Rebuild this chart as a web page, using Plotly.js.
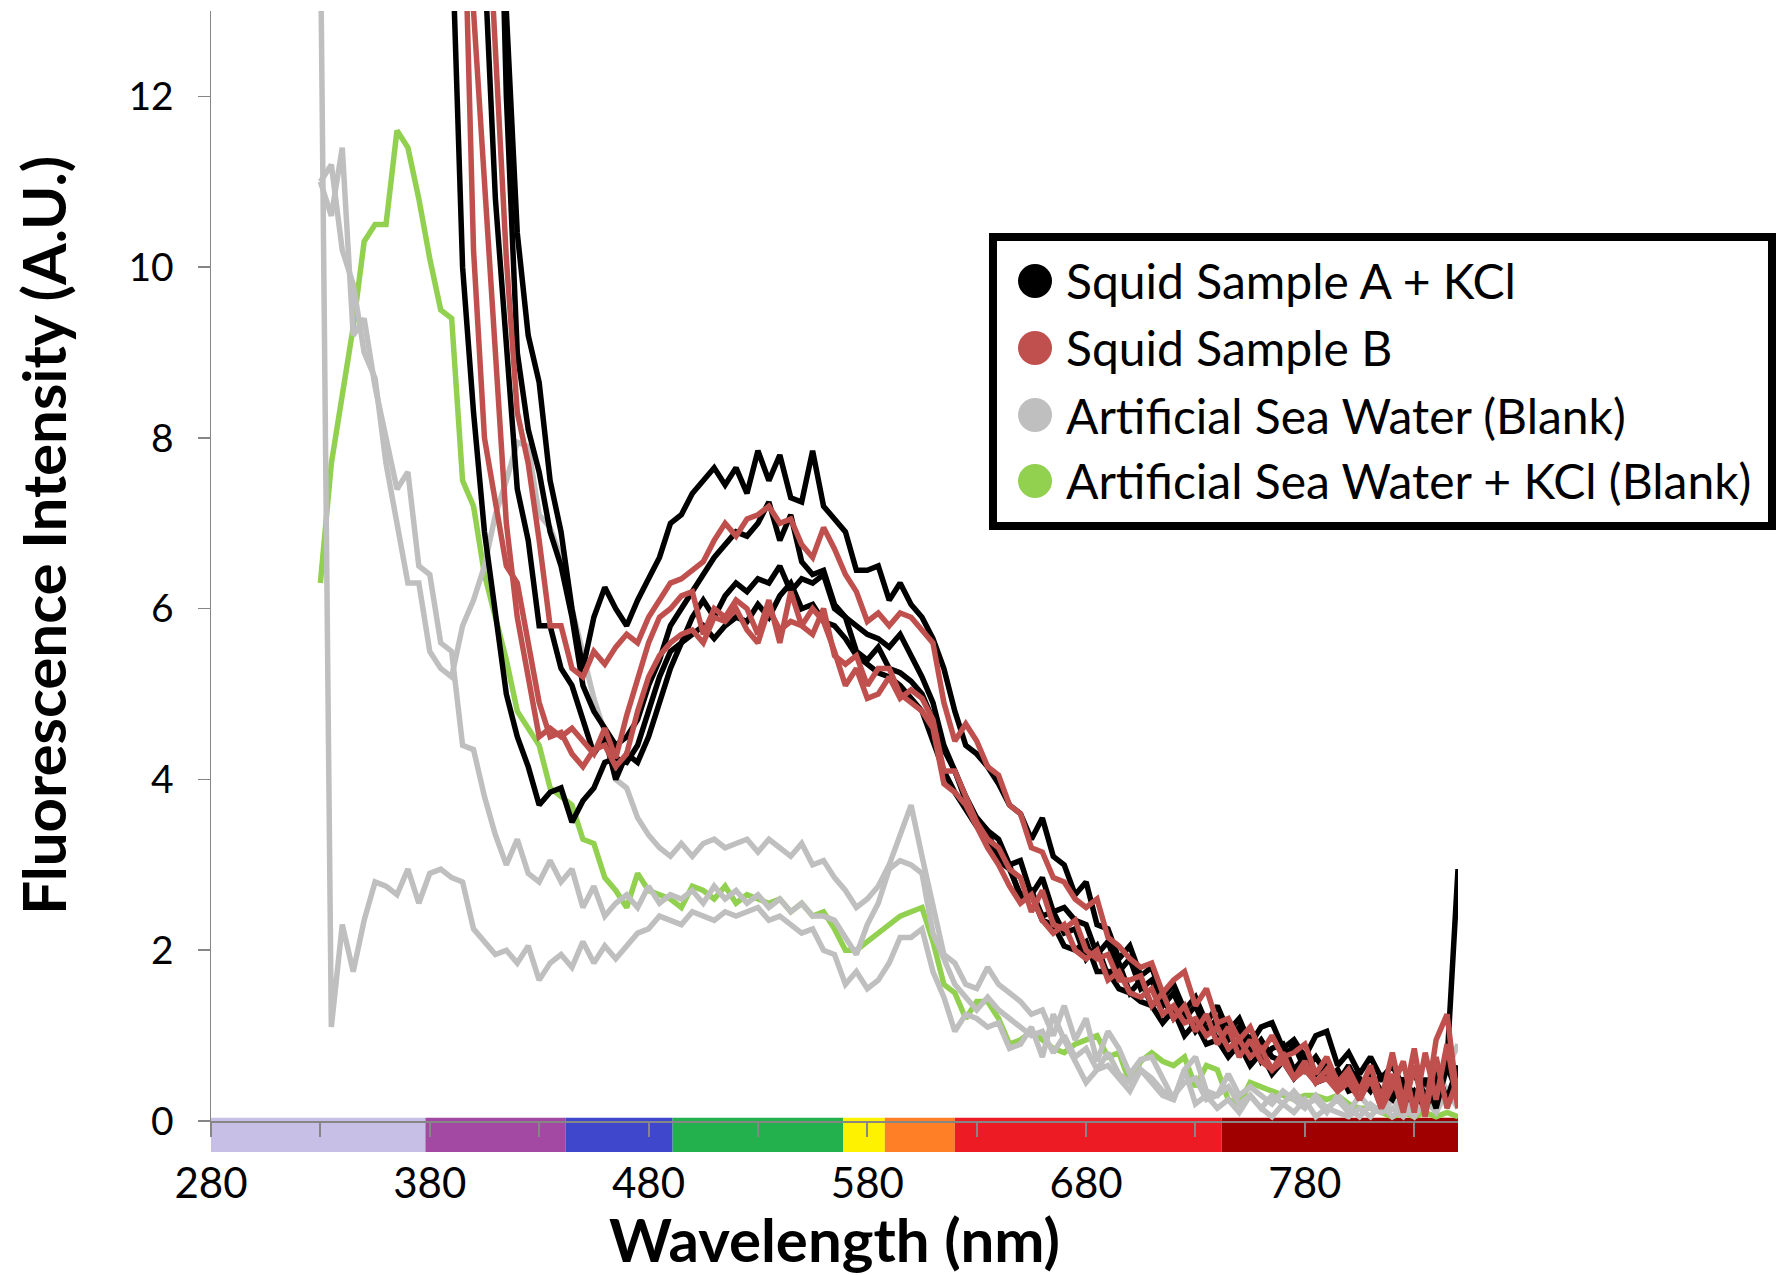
<!DOCTYPE html>
<html>
<head>
<meta charset="utf-8">
<script src="https://cdn.plot.ly/plotly-3.0.1.min.js"></script>
<style>
  html, body { margin: 0; padding: 0; background: #ffffff; }
  #chart { width: 1779px; height: 1275px; }
</style>
</head>
<body>
<div id="chart"></div>
<script>
// ---------------- data ----------------
const wavelength = [
  330,335,340,345,350,355,360,365,370,375,
  380,385,390,395,400,405,410,415,420,425,
  430,435,440,445,450,455,460,465,470,475,
  480,485,490,495,500,505,510,515,520,525,
  530,535,540,545,550,555,560,565,570,575,
  580,585,590,595,600,605,610,615,620,625,
  630,635,640,645,650,655,660,665,670,675,
  680,685,690,695,700,705,710,715,720,725,
  730,735,740,745,750,755,760,765,770,775,
  780,785,790,795,800,805,810,815,820,825,
  830,835,840,845,850
];

// Squid Sample A + KCl (four runs)
const squidA1 = [
  null,null,null,null,null,null,null,null,null,null,
  null,null,null,null,null,null,15,13.0,10.4,9.2,
  8.65,7.5,6.9,6.0,5.3,5.9,6.25,6.0,5.8,6.1,
  6.35,6.6,7.0,7.1,7.35,7.5,7.65,7.45,7.65,7.35,
  7.85,7.5,7.8,7.3,7.25,7.85,7.2,7.05,6.9,6.45,
  6.45,6.5,6.1,6.3,6.05,5.9,5.65,5.3,4.8,4.4,
  4.3,4.15,3.95,3.7,3.6,3.3,3.55,3.1,3.0,2.65,
  2.8,2.3,2.25,1.9,2.05,1.7,1.8,1.45,1.6,1.3,
  1.45,1.15,1.35,1.05,1.2,0.9,1.1,1.15,0.85,0.95,
  0.75,1.0,1.05,0.65,0.8,0.55,0.75,0.5,0.65,0.4,
  0.55,0.3,0.5,0.25,0.55
];
const squidA2 = [
  null,null,null,null,null,null,null,null,null,null,
  null,null,null,null,null,null,17,12.0,9.0,8.1,
  7.6,6.9,6.5,5.9,5.1,4.8,4.6,4.4,4.5,4.7,
  5.1,5.4,5.8,6.0,6.2,6.4,6.6,6.75,6.9,6.85,
  7.0,7.25,6.8,7.1,6.55,6.4,6.45,6.05,5.9,5.5,
  5.4,5.55,5.3,5.25,5.15,5.0,4.7,4.35,4.1,3.8,
  3.55,3.4,3.05,2.95,2.65,2.7,2.4,2.45,2.2,2.25,
  1.9,2.05,1.7,1.85,1.5,1.65,1.35,1.45,1.2,1.3,
  1.05,1.2,0.95,1.05,0.8,1.0,0.7,0.85,0.9,0.6,
  0.75,0.55,0.7,0.45,0.6,0.5,0.35,0.55,0.3,0.45,
  0.2,0.5,0.15,0.65,0.3
];
const squidA3 = [
  null,null,null,null,null,null,null,null,null,null,
  null,null,null,null,16,13.6,10.8,9.1,7.4,6.8,
  5.8,5.8,5.3,5.1,4.7,4.3,4.5,4.0,4.3,4.2,
  4.5,4.9,5.3,5.6,5.9,6.1,5.9,6.15,6.3,6.2,
  6.35,6.3,6.5,6.2,6.35,6.3,6.4,6.0,5.9,5.8,
  5.7,5.65,5.55,5.7,5.45,5.2,4.9,4.4,4.1,3.75,
  3.55,3.4,3.3,3.0,3.05,2.65,2.85,2.45,2.5,2.35,
  2.3,1.95,2.1,1.75,1.9,1.55,1.65,1.35,1.5,1.2,
  1.35,1.05,1.2,0.95,1.1,0.8,0.95,0.75,0.7,0.9,
  0.6,0.75,0.55,0.45,0.65,0.4,0.55,0.35,0.25,0.5,
  0.3,0.2,0.6,0.25,0.65
];
const squidA4 = [
  null,null,null,null,null,null,null,null,null,null,
  null,17,14.0,10.0,8.3,6.9,5.9,5.0,4.5,4.15,
  3.7,3.85,3.9,3.5,3.75,3.9,4.2,4.25,4.2,4.4,
  4.8,5.2,5.5,5.6,5.7,5.8,5.65,5.8,5.9,5.85,
  6.05,5.9,6.15,6.3,6.0,6.05,5.85,5.8,5.65,5.45,
  5.35,5.25,5.2,5.1,4.95,4.8,4.45,4.1,3.85,3.65,
  3.45,3.3,3.1,3.0,2.6,2.65,2.35,2.3,2.05,2.0,
  2.1,1.75,1.75,1.55,1.5,1.4,1.35,1.15,1.3,1.0,
  1.15,0.9,0.95,0.75,0.9,0.65,0.8,0.55,0.7,0.5,
  0.65,0.45,0.5,0.6,0.35,0.4,0.5,0.25,0.4,0.2,
  0.35,0.15,0.4,0.7,2.95
];

// Squid Sample B (three runs)
const squidB1 = [
  null,null,null,null,null,null,null,null,null,null,
  null,null,null,null,null,15,12.4,10.1,8.3,7.7,
  6.8,5.8,5.8,5.3,5.2,5.5,5.35,5.55,5.7,5.6,
  5.9,6.1,6.3,6.35,6.45,6.55,6.8,7.0,6.85,7.05,
  7.1,7.2,7.0,7.05,6.75,6.6,6.95,6.7,6.4,6.2,
  5.85,5.95,5.8,5.95,5.9,5.75,5.6,4.9,4.45,4.65,
  4.45,4.15,4.05,3.7,3.6,3.2,3.15,2.85,2.8,2.6,
  2.5,2.6,2.15,2.05,1.9,1.8,1.85,1.5,1.65,1.75,
  1.35,1.55,1.15,1.2,0.95,1.1,0.8,1.0,0.75,0.8,
  0.9,0.55,0.75,0.45,0.6,0.35,0.65,0.25,0.8,0.2,
  0.85,0.1,0.95,1.25,0.2
];
const squidB2 = [
  null,null,null,null,null,null,null,null,null,null,
  null,null,null,15,13.0,11.0,9.0,7.0,5.9,5.2,
  4.5,4.6,4.5,4.6,4.45,4.3,4.6,4.25,4.75,5.2,
  5.6,5.9,6.0,6.15,6.2,5.7,6.0,5.9,6.1,6.0,
  5.7,6.1,5.6,6.2,5.8,6.0,5.85,5.5,5.1,5.3,
  4.95,5.0,5.2,4.95,5.05,4.95,4.7,4.1,4.1,3.8,
  3.5,3.3,3.2,2.95,2.85,2.45,2.7,2.3,2.25,2.35,
  2.0,1.9,1.95,1.65,1.65,1.7,1.35,1.5,1.2,1.35,
  1.05,1.25,0.9,1.1,0.75,0.95,0.7,0.6,0.8,0.5,
  0.7,0.45,0.6,0.35,0.55,0.25,0.5,0.15,0.55,0.1,
  0.65,0.05,0.75,0.15,0.5
];
const squidB3 = [
  null,null,null,null,null,null,null,null,null,null,
  null,null,null,15,10.2,8.0,7.2,6.5,6.3,5.6,
  4.9,4.5,4.55,4.3,4.15,4.35,4.4,4.15,4.3,4.8,
  5.2,5.45,5.6,5.7,5.75,5.6,5.9,5.85,6.0,5.75,
  5.6,6.0,5.75,5.85,5.8,5.7,6.0,5.45,5.35,5.45,
  5.1,5.3,5.3,5.0,4.9,4.8,4.6,3.95,3.85,3.7,
  3.45,3.2,3.0,2.75,2.55,2.65,2.35,2.2,2.3,2.0,
  1.9,2.0,1.65,1.75,1.5,1.45,1.55,1.25,1.35,1.15,
  1.2,1.0,1.1,0.85,0.95,0.75,0.85,0.6,0.7,0.5,
  0.6,0.45,0.5,0.35,0.45,0.25,0.5,0.15,0.4,0.7,
  0.1,0.8,0.25,0.9,0.15
];

// Artificial Sea Water (Blank) (three runs)
const seaWater1 = [
  14,1.1,2.3,1.75,2.35,2.8,2.75,2.65,2.95,2.55,
  2.9,2.95,2.85,2.8,2.25,2.1,1.95,2.0,1.85,2.05,
  1.65,1.85,1.95,1.8,2.1,1.85,2.05,1.9,2.05,2.2,
  2.25,2.4,2.35,2.3,2.45,2.4,2.35,2.45,2.4,2.45,
  2.5,2.35,2.4,2.3,2.2,2.25,2.0,1.95,1.6,1.75,
  1.55,1.65,1.85,2.15,2.15,2.25,1.75,1.45,1.05,1.25,
  1.2,1.1,1.15,0.85,0.9,1.1,0.75,1.25,0.95,0.7,
  0.45,0.6,0.65,0.5,0.35,0.6,0.45,0.3,0.25,0.6,
  0.2,0.3,0.15,0.25,0.1,0.3,0.15,0.05,0.2,0.1,
  0.25,0.05,0.15,0.1,0.05,0.15,0.05,0.2,0.05,0.15,
  0.05,0.25,0.1,0.35,0.15
];
const seaWater2 = [
  11.0,10.6,11.4,9.2,9.4,8.6,8.0,7.4,7.6,6.5,
  6.4,5.6,5.5,4.4,4.35,3.8,3.35,3.0,3.3,2.9,
  2.8,3.05,2.8,2.95,2.5,2.75,2.4,2.55,2.65,2.5,
  2.75,2.55,2.65,2.6,2.7,2.55,2.75,2.6,2.7,2.55,
  2.65,2.5,2.6,2.45,2.55,2.4,2.4,2.35,2.15,1.95,
  2.3,2.55,2.95,3.05,3.0,2.9,2.2,1.9,1.6,1.45,
  1.3,1.45,1.3,1.2,1.1,1.0,1.05,0.8,1.0,0.75,
  0.85,0.6,0.8,0.55,0.45,0.6,0.5,0.35,0.3,0.45,
  0.5,0.25,0.3,0.4,0.2,0.3,0.15,0.3,0.2,0.35,
  0.2,0.25,0.1,0.3,0.15,0.05,0.2,0.1,0.15,0.05,
  0.2,0.45,0.2,0.6,0.9
];
const seaWater3 = [
  11.0,11.2,10.2,9.8,9.0,8.7,7.7,7.0,6.3,6.3,
  5.5,5.3,5.2,5.8,6.1,6.5,7.1,7.5,7.95,7.9,
  7.1,6.95,6.6,6.0,5.5,4.95,4.55,4.0,3.9,3.55,
  3.35,3.2,3.1,3.25,3.1,3.25,3.3,3.2,3.25,3.3,
  3.15,3.3,3.2,3.1,3.25,3.0,3.05,2.85,2.7,2.5,
  2.6,2.75,3.0,3.35,3.7,3.1,2.5,1.95,1.85,1.6,
  1.55,1.8,1.6,1.5,1.4,1.25,1.3,1.0,1.35,0.95,
  1.2,0.7,1.05,0.85,0.55,0.72,0.75,0.5,0.25,0.6,
  0.75,0.35,0.3,0.55,0.3,0.4,0.3,0.2,0.35,0.25,
  0.15,0.3,0.15,0.25,0.1,0.3,0.15,0.1,0.25,0.1,
  0.3,0.15,0.6,0.35,0.5
];

// Artificial Sea Water + KCl (Blank)
const seaWaterKCl = [
  6.3,7.7,8.5,9.3,10.3,10.5,10.5,11.6,11.4,10.8,
  10.1,9.5,9.4,7.5,7.2,6.4,5.9,5.4,4.8,4.6,
  4.4,3.9,3.8,3.7,3.3,3.25,2.85,2.7,2.5,2.9,
  2.7,2.65,2.6,2.5,2.75,2.7,2.6,2.75,2.55,2.65,
  2.6,2.55,2.6,2.45,2.55,2.4,2.45,2.25,2.0,2.0,
  2.1,2.2,2.3,2.4,2.45,2.5,2.1,1.6,1.5,1.2,
  1.4,1.4,1.2,0.9,0.95,1.05,0.95,0.85,0.8,0.9,
  0.95,1.0,0.75,0.8,0.45,0.7,0.8,0.7,0.65,0.75,
  0.4,0.65,0.6,0.25,0.2,0.45,0.4,0.35,0.3,0.25,
  0.3,0.3,0.25,0.3,0.2,0.15,0.15,0.1,0.05,0.1,
  0.05,0.1,0.05,0.1,0.05
];

// visible-spectrum strip under the axis (band edges in nm)
const bandEdges  = [280, 378, 442, 491, 569, 588, 620, 742, 850];
const bandColors = ['#C8BFE7', '#A349A4', '#3F48CC', '#22B14C', '#FFF200', '#FF7F27', '#ED1C24', '#A00000'];

const xTickVals = [280, 330, 380, 430, 480, 530, 580, 630, 680, 730, 780, 830];
const xTickText = ['280', '', '380', '', '480', '', '580', '', '680', '', '780', ''];

const legendNames  = ['Squid Sample A + KCl', 'Squid Sample B', 'Artificial Sea Water (Blank)', 'Artificial Sea Water + KCl (Blank)'];
const legendColors = ['#000000', '#C0504D', '#BFBFBF', '#92D050'];

// ---------------- traces ----------------
const FONT = 'Lato, "Open Sans", "DejaVu Sans", sans-serif';
const groups = [
  { series: [seaWaterKCl], color: legendColors[3], name: legendNames[3] },
  { series: [seaWater1, seaWater2, seaWater3], color: legendColors[2], name: legendNames[2] },
  { series: [squidA1, squidA2, squidA3, squidA4], color: legendColors[0], name: legendNames[0] },
  { series: [squidB1, squidB2, squidB3], color: legendColors[1], name: legendNames[1] }
];
const traces = [];
groups.forEach(g => {
  g.series.forEach(s => {
    traces.push({
      type: 'scatter', mode: 'lines', x: wavelength, y: s, name: g.name,
      line: { color: g.color, width: 5.5 }, showlegend: false, hoverinfo: 'skip'
    });
  });
});

// ---------------- layout ----------------
const shapes = [];
bandColors.forEach((c, i) => {
  shapes.push({
    type: 'rect', xref: 'x', yref: 'paper',
    x0: bandEdges[i], x1: bandEdges[i + 1], y0: -0.028, y1: 0.003,
    fillcolor: c, line: { width: 0 }, layer: 'below'
  });
});

// custom legend box
shapes.push({
  type: 'rect', xref: 'paper', yref: 'paper',
  x0: 0.6271, x1: 1.2518, y0: 0.5360, y1: 0.7964,
  line: { color: '#000000', width: 8 }, fillcolor: '#ffffff', layer: 'above'
});
const legendRows = [0.7568, 0.6964, 0.6360, 0.5766];
const annotations = [];
legendNames.forEach((n, i) => {
  shapes.push({
    type: 'circle', xref: 'paper', yref: 'paper',
    xsizemode: 'pixel', ysizemode: 'pixel',
    xanchor: 0.6608, yanchor: legendRows[i],
    x0: -17, x1: 17, y0: -17, y1: 17,
    fillcolor: legendColors[i], line: { width: 0 }, layer: 'above'
  });
  annotations.push({
    xref: 'paper', yref: 'paper', x: 0.684, y: legendRows[i],
    xanchor: 'left', yanchor: 'middle', showarrow: false,
    text: n, font: { family: FONT, size: 48, color: '#000000' }
  });
});

const layout = {
  width: 1779, height: 1275,
  margin: { l: 211, r: 321, t: 11, b: 154, pad: 0 },
  paper_bgcolor: '#ffffff', plot_bgcolor: '#ffffff',
  showlegend: false,
  font: { family: FONT, color: '#000000' },
  xaxis: {
    range: [280, 850], autorange: false,
    showgrid: false, zeroline: false,
    showline: true, linecolor: '#868686', linewidth: 2,
    ticks: 'outside', ticklen: 14, tickwidth: 2, tickcolor: '#868686',
    tickmode: 'array', tickvals: xTickVals, ticktext: xTickText,
    tickfont: { family: FONT, size: 42, color: '#000000' },
    ticklabelstandoff: 11,
    title: { text: '<b>Wavelength (nm)</b>', font: { family: FONT, size: 60, color: '#000000' }, standoff: 14 }
  },
  yaxis: {
    range: [0, 13], autorange: false,
    showgrid: false, zeroline: false,
    showline: true, linecolor: '#868686', linewidth: 1.5,
    ticks: 'outside', ticklen: 12, tickwidth: 1.5, tickcolor: '#868686',
    tick0: 0, dtick: 2,
    tickfont: { family: FONT, size: 39, color: '#000000' },
    ticklabelstandoff: 16,
    title: { text: '&nbsp;&nbsp;&nbsp;&nbsp;<b>Fluorescence Intensity (A.U.)</b>', font: { family: FONT, size: 60, color: '#000000' }, standoff: 42 }
  },
  shapes: shapes,
  annotations: annotations
};

Plotly.newPlot('chart', traces, layout, { displayModeBar: false, staticPlot: true });
</script>
</body>
</html>
